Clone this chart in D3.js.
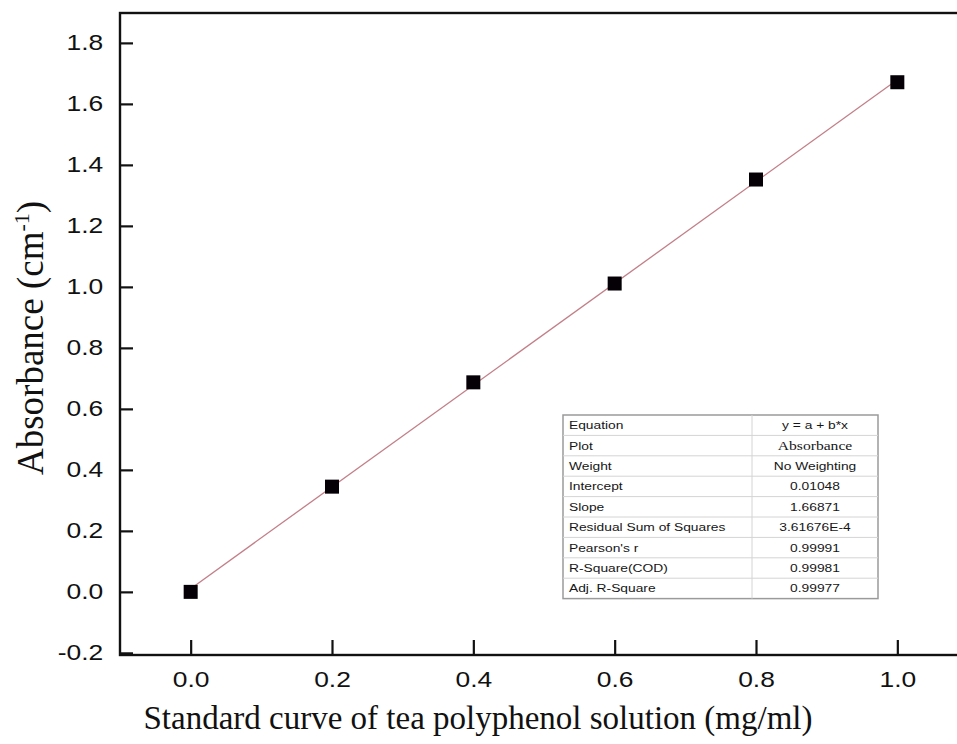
<!DOCTYPE html>
<html>
<head>
<meta charset="utf-8">
<script src="https://cdn.jsdelivr.net/npm/d3@7"></script>
<style>
  body { margin: 0; background: #fff; }
  svg { display: block; }
</style>
</head>
<body>
<svg id="chart" width="957" height="744"></svg>
<script>
const concentrations = [0.0, 0.2, 0.4, 0.6, 0.8, 1.0];
const absorbance = [0.0, 0.345, 0.687, 1.011, 1.352, 1.671];
const xTicks = [0.0, 0.2, 0.4, 0.6, 0.8, 1.0];
const yTicks = [-0.2, 0.0, 0.2, 0.4, 0.6, 0.8, 1.0, 1.2, 1.4, 1.6, 1.8];
const fitIntercept = 0.01048;
const fitSlope = 1.66871;
const tableLabels = ["Equation", "Plot", "Weight", "Intercept", "Slope",
  "Residual Sum of Squares", "Pearson's r", "R-Square(COD)", "Adj. R-Square"];
const tableValues = ["y = a + b*x", "Absorbance", "No Weighting", "0.01048", "1.66871",
  "3.61676E-4", "0.99991", "0.99981", "0.99977"];

const MARGIN = { left: 120, top: 13, bottom: 655, right: 968 };
const STRETCH = 1.2; // the source figure is a bit wider than tall

const svg = d3.select("#chart");

const x = d3.scaleLinear().domain([-0.1, 1.1]).range([MARGIN.left, MARGIN.right]);
const y = d3.scaleLinear().domain([-0.207, 1.898]).range([MARGIN.bottom, MARGIN.top]);

// frame
svg.append("rect")
  .attr("x", MARGIN.left)
  .attr("y", MARGIN.top)
  .attr("width", MARGIN.right - MARGIN.left)
  .attr("height", MARGIN.bottom - MARGIN.top)
  .attr("fill", "none")
  .attr("stroke", "#111")
  .attr("stroke-width", 2.4);

const xAxis = d3.axisBottom(x)
  .tickValues(xTicks)
  .tickFormat(d3.format(".1f"))
  .tickSize(-15)
  .tickPadding(16);

const yAxis = d3.axisLeft(y)
  .tickValues(yTicks)
  .tickFormat((d) => d3.format(".1f")(d).replace("\u2212", "-"))
  .tickSize(-13)
  .tickPadding(14);

const gx = svg.append("g")
  .attr("transform", `translate(0,${MARGIN.bottom})`)
  .call(xAxis);
const gy = svg.append("g")
  .attr("transform", `translate(${MARGIN.left},0)`)
  .call(yAxis);

[gx, gy].forEach((g) => {
  g.select(".domain").remove();
  g.selectAll(".tick line").attr("stroke", "#111").attr("stroke-width", 2.2);
  g.selectAll(".tick text")
    .attr("fill", "#111")
    .attr("transform", `scale(${STRETCH},1)`)
    .style("font-family", "'Liberation Sans', Arial, sans-serif")
    .style("font-size", "22px");
});

// fitted line
const fitLine = d3.line()
  .x((d) => x(d))
  .y((d) => y(fitIntercept + fitSlope * d));

svg.append("path")
  .datum([concentrations[0], concentrations[concentrations.length - 1]])
  .attr("d", fitLine)
  .attr("fill", "none")
  .attr("stroke", "#c27f88")
  .attr("stroke-width", 1.3);

// points
const size = 14;
svg.selectAll(".pt")
  .data(concentrations)
  .join("rect")
  .attr("class", "pt")
  .attr("x", (d) => x(d) - size / 2)
  .attr("y", (d, i) => y(absorbance[i]) - size / 2)
  .attr("width", size)
  .attr("height", size)
  .attr("fill", "#050005");

// axis titles
svg.append("text")
  .attr("x", 478)
  .attr("y", 729)
  .attr("text-anchor", "middle")
  .style("font-family", "'Liberation Serif', 'Times New Roman', serif")
  .style("font-size", "33px")
  .attr("fill", "#111")
  .text("Standard curve of tea polyphenol solution (mg/ml)");

const yTitle = svg.append("text")
  .attr("transform", "translate(43,338) rotate(-90)")
  .attr("text-anchor", "middle")
  .style("font-family", "'Liberation Serif', 'Times New Roman', serif")
  .style("font-size", "37px")
  .attr("fill", "#111");
yTitle.append("tspan").text("Absorbance (cm");
yTitle.append("tspan").attr("dy", -14).style("font-size", "22px").text("-1");
yTitle.append("tspan").attr("dy", 14).text(")");

// fit table
const tbl = { left: 563, top: 415, width: 315, colSplit: 752, rowH: 20.4 };
const tg = svg.append("g");
tg.append("rect")
  .attr("x", tbl.left)
  .attr("y", tbl.top)
  .attr("width", tbl.width)
  .attr("height", tbl.rowH * tableLabels.length)
  .attr("fill", "#fff")
  .attr("stroke", "#9a9a9a")
  .attr("stroke-width", 1.5);

tg.selectAll(".row-line")
  .data(tableLabels.slice(1))
  .join("line")
  .attr("x1", tbl.left)
  .attr("x2", tbl.left + tbl.width)
  .attr("y1", (d, i) => tbl.top + (i + 1) * tbl.rowH)
  .attr("y2", (d, i) => tbl.top + (i + 1) * tbl.rowH)
  .attr("stroke", "#d4d4d4")
  .attr("stroke-width", 1);

tg.append("line")
  .attr("x1", tbl.colSplit)
  .attr("x2", tbl.colSplit)
  .attr("y1", tbl.top)
  .attr("y2", tbl.top + tbl.rowH * tableLabels.length)
  .attr("stroke", "#d4d4d4");

tg.selectAll(".lbl")
  .data(tableLabels)
  .join("text")
  .attr("transform", (d, i) =>
    `translate(${tbl.left + 6},${tbl.top + (i + 0.5) * tbl.rowH}) scale(${STRETCH},1)`)
  .attr("dy", "0.35em")
  .style("font-family", "'Liberation Sans', Arial, sans-serif")
  .style("font-size", "11.5px")
  .attr("fill", "#161616")
  .text((d) => d);

tg.selectAll(".val")
  .data(tableValues)
  .join("text")
  .attr("transform", (d, i) =>
    `translate(${(tbl.colSplit + tbl.left + tbl.width) / 2},${tbl.top + (i + 0.5) * tbl.rowH}) scale(${STRETCH},1)`)
  .attr("dy", "0.35em")
  .attr("text-anchor", "middle")
  .style("font-family", (d, i) => i === 1 ? "'Liberation Serif', serif" : "'Liberation Sans', Arial, sans-serif")
  .style("font-size", (d, i) => i === 1 ? "13px" : "11.5px")
  .attr("fill", "#161616")
  .text((d) => d);
</script>
</body>
</html>
